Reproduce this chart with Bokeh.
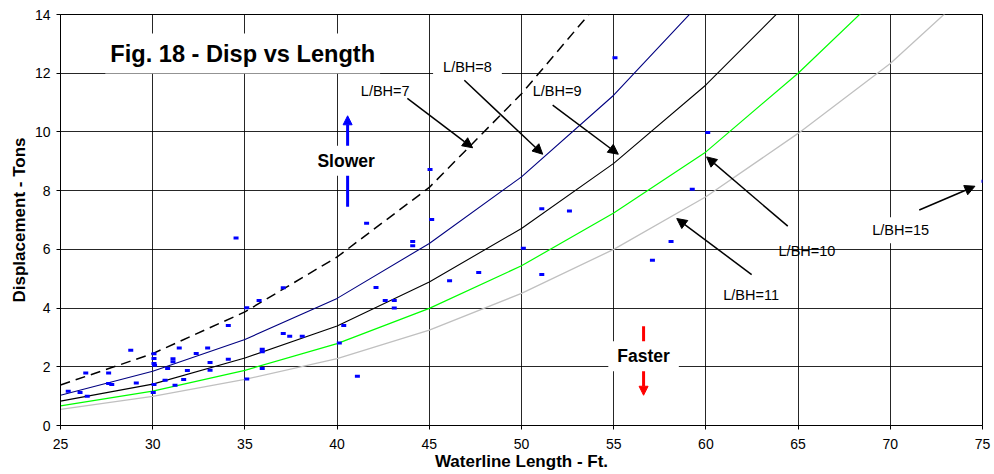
from bokeh.plotting import figure
from bokeh.models import Label, Arrow, NormalHead, FixedTicker, Range1d
from bokeh.embed import file_html
from bokeh.resources import INLINE

# ---- data ----
x_ticks = [25, 30, 35, 40, 45, 50, 55, 60, 65, 70, 75]
y_ticks = [0, 2, 4, 6, 8, 10, 12, 14]

curve_len = [25, 30, 35, 40, 45, 50, 55, 60, 65, 70, 75]
disp_lbh7 = [1.38, 2.45, 3.87, 5.74, 8.11, 11.3, 15.0]
disp_lbh8 = [1.03, 1.85, 2.93, 4.33, 6.20, 8.47, 11.25, 14.6]
disp_lbh9 = [0.83, 1.41, 2.30, 3.39, 4.89, 6.71, 8.93, 11.6, 14.75]
disp_lbh10 = [0.67, 1.17, 1.88, 2.79, 3.99, 5.44, 7.24, 9.32, 12.0, 15.0]
disp_lbh11 = [0.55, 0.99, 1.57, 2.28, 3.25, 4.50, 6.00, 7.79, 9.95, 12.33, 15.2]

boat_len = [25.42, 26.06, 26.45, 26.37, 27.61, 27.61, 27.78, 28.81, 29.11, 30.07,
            30.07, 30.07, 30.10, 30.07, 30.03, 30.67, 30.81, 31.10, 31.10, 31.21,
            31.44, 31.68, 31.88, 32.36, 32.98, 33.11, 33.11, 34.10, 34.10, 34.52,
            35.10, 35.10, 35.77, 35.94, 35.94, 35.94, 37.08, 37.08, 37.43, 38.11,
            40.12, 40.36, 41.10, 41.60, 42.11, 42.61, 43.10, 43.10, 44.10, 44.10,
            45.04, 45.13, 46.10, 47.68, 50.10, 51.10, 51.10, 52.60, 55.07, 57.10,
            58.11, 59.26, 60.10, 75.08]
boat_disp = [1.17, 1.12, 1.00, 1.79, 1.79, 1.43, 1.40, 2.56, 1.45, 2.44,
             2.28, 2.11, 2.05, 1.40, 1.12, 1.54, 1.94, 2.27, 2.17, 1.37,
             2.64, 1.57, 1.87, 2.45, 2.64, 2.15, 1.88, 3.41, 2.26, 6.39,
             4.01, 1.58, 4.26, 2.60, 2.51, 1.94, 4.69, 3.13, 3.04, 3.04,
             2.81, 3.41, 1.68, 6.89, 4.70, 4.26, 4.26, 4.00, 6.27, 6.12,
             8.72, 7.02, 4.93, 5.21, 6.04, 7.38, 5.14, 7.31, 12.53, 5.63,
             6.27, 8.05, 9.98, 8.32]

# labels: text, x, y
curve_labels = ["L/BH=7", "L/BH=8", "L/BH=9", "L/BH=10", "L/BH=11", "L/BH=15"]
label_x = [42.61, 47.07, 51.93, 65.48, 62.45, 70.56]
label_y = [11.40, 12.22, 11.40, 5.94, 4.44, 6.65]
# arrows: start -> end
arr_x0 = [43.81, 46.90, 51.69, 64.44, 62.48, 71.57]
arr_y0 = [11.14, 11.76, 10.91, 6.79, 5.14, 7.34]
arr_x1 = [47.35, 51.15, 55.25, 60.04, 58.42, 74.59]
arr_y1 = [9.46, 9.24, 9.24, 9.15, 7.05, 8.15]

FONT = "Liberation Sans"

p = figure(width=994, height=474, output_backend="svg", toolbar_location=None,
           x_range=Range1d(25, 75), y_range=Range1d(0, 14),
           min_border_left=60, min_border_right=12, min_border_top=14,
           min_border_bottom=49)
p.background_fill_color = "white"
p.border_fill_color = "white"
p.outline_line_color = "black"
p.outline_line_width = 1

for ax, ticks in ((p.xaxis, x_ticks), (p.yaxis, y_ticks)):
    ax.ticker = FixedTicker(ticks=ticks)
    ax.axis_line_color = "black"
    ax.major_tick_line_color = "black"
    ax.major_tick_in = 0
    ax.major_tick_out = 4
    ax.minor_tick_line_color = None
    ax.major_label_text_font = FONT
    ax.major_label_text_font_size = "14px"
    ax.major_label_text_color = "black"
    ax.axis_label_text_font = FONT
    ax.axis_label_text_font_size = "17px"
    ax.axis_label_text_font_style = "bold"
    ax.axis_label_text_color = "black"

p.xaxis.axis_label = "Waterline Length - Ft."
p.yaxis.axis_label = "Displacement - Tons"
p.xaxis.major_label_standoff = 9
p.yaxis.major_label_standoff = 6
p.xaxis.axis_label_standoff = 0
p.yaxis.axis_label_standoff = 3

p.xgrid.ticker = FixedTicker(ticks=x_ticks)
p.ygrid.ticker = FixedTicker(ticks=y_ticks)
for g in (p.xgrid, p.ygrid):
    g.grid_line_color = "black"
    g.grid_line_alpha = 0.85
    g.grid_line_width = 1

# curves
p.line(curve_len[:len(disp_lbh11)], disp_lbh11, line_color="#C0C0C0", line_width=1.3)
p.line(curve_len[:len(disp_lbh10)], disp_lbh10, line_color="#00FF00", line_width=1.2)
p.line(curve_len[:len(disp_lbh9)], disp_lbh9, line_color="black", line_width=1.1)
p.line(curve_len[:len(disp_lbh8)], disp_lbh8, line_color="#000080", line_width=1.1)
p.line(curve_len[:len(disp_lbh7)], disp_lbh7, line_color="black", line_width=1.5,
       line_dash="10 6")

# boats
p.rect(x=boat_len, y=boat_disp, width=5, height=3, width_units="screen",
       height_units="screen", fill_color="#0000FF", line_color=None)

# arrows to curves
for x0, y0, x1, y1 in zip(arr_x0, arr_y0, arr_x1, arr_y1):
    p.add_layout(Arrow(x_start=x0, y_start=y0, x_end=x1, y_end=y1,
                       line_color="black", line_width=1.5,
                       end=NormalHead(size=10, fill_color="black", line_color="black", line_width=1)))

# slower / faster arrows
p.add_layout(Arrow(x_start=40.57, y_start=7.45, x_end=40.57, y_end=10.55,
                   line_color="#0000FF", line_width=3,
                   end=NormalHead(size=9, fill_color="#0000FF", line_color="#0000FF", line_width=1)))
p.add_layout(Arrow(x_start=56.62, y_start=3.38, x_end=56.62, y_end=1.03,
                   line_color="#FF0000", line_width=3,
                   end=NormalHead(size=9, fill_color="#FF0000", line_color="#FF0000", line_width=1)))

boxed = {"L/BH=8": dict(left=10, right=10, top=4, bottom=4),
         "L/BH=15": dict(left=6, right=6, top=5, bottom=5)}
for t, x, y in zip(curve_labels, label_x, label_y):
    kw = {}
    if t in boxed:
        kw = dict(background_fill_color="white", padding=boxed[t])
    p.add_layout(Label(x=x, y=y, text=t, text_align="center", text_baseline="middle",
                       text_font=FONT, text_font_size="14.5px", text_color="black", **kw))

p.add_layout(Label(x=34.88, y=12.67, text="Fig. 18 - Disp vs Length", text_align="center",
                   text_baseline="middle", text_font=FONT, text_font_size="23.6px",
                   text_font_style="bold", text_color="black",
                   background_fill_color="white", padding=dict(left=5, right=5, top=7, bottom=7)))
p.add_layout(Label(x=40.49, y=9.02, text="Slower", text_align="center",
                   text_baseline="middle", text_font=FONT, text_font_size="17.5px",
                   text_font_style="bold", text_color="black",
                   background_fill_color="white", padding=dict(left=8, right=8, top=5, bottom=5)))
p.add_layout(Label(x=56.62, y=2.36, text="Faster", text_align="center",
                   text_baseline="middle", text_font=FONT, text_font_size="17.5px",
                   text_font_style="bold", text_color="black",
                   background_fill_color="white", padding=dict(left=9, right=9, top=5, bottom=5)))

open("out.html", "w").write(file_html(p, INLINE))
